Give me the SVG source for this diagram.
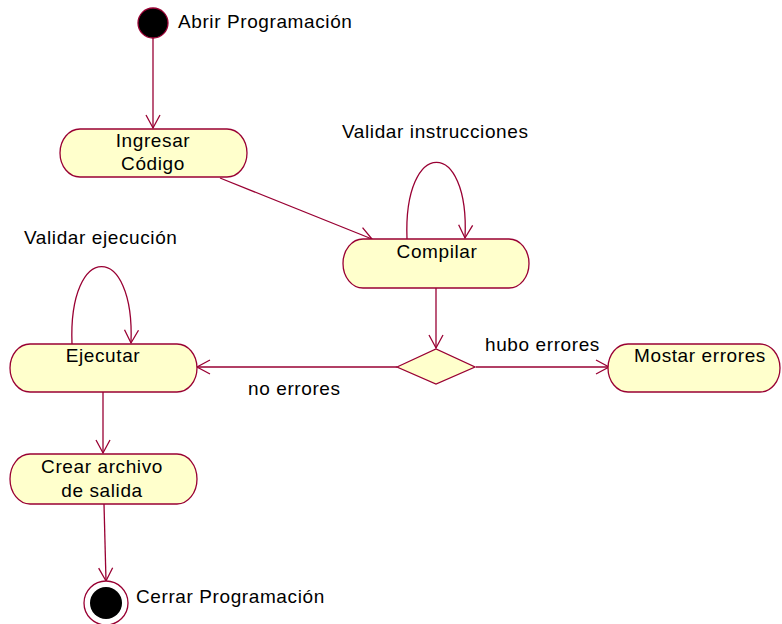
<svg xmlns="http://www.w3.org/2000/svg" width="782" height="624" viewBox="0 0 782 624">
  <style>
    .act { fill: #FFFFCC; stroke: #990033; stroke-width: 1.3; }
    .edge { fill: none; stroke: #990033; stroke-width: 1.3; }
    text { font-family: "Liberation Sans", Arial, sans-serif; font-size: 19px; fill: #000; letter-spacing: 0.6px; }
    .c { text-anchor: middle; }
  </style>
  <defs>
    <marker id="open" markerUnits="userSpaceOnUse" markerWidth="16" markerHeight="16" viewBox="-14 -8 16 16" refX="0" refY="0" orient="auto">
      <path d="M-13,-7 L0,0 L-13,7" fill="none" stroke="#990033" stroke-width="1.3"/>
    </marker>
  </defs>
  <rect width="782" height="624" fill="#fff"/>

  <!-- connectors -->
  <g id="connectors">
    <path class="edge" d="M153,38 V128" marker-end="url(#open)"/>
    <path class="edge" d="M220,178 L372,239" marker-end="url(#open)"/>
    <path class="edge" d="M407,239 C403,137 470,137 465,238" marker-end="url(#open)"/>
    <path class="edge" d="M436,288 V348" marker-end="url(#open)"/>
    <path class="edge" d="M397,367 H197" marker-end="url(#open)"/>
    <path class="edge" d="M476,367 H609" marker-end="url(#open)"/>
    <path class="edge" d="M72,344 C68,241 135,241 131,343" marker-end="url(#open)"/>
    <path class="edge" d="M103,392 V453" marker-end="url(#open)"/>
    <path class="edge" d="M104,504 L106,581" marker-end="url(#open)"/>
    <text x="342" y="138">Validar instrucciones</text>
    <text x="24" y="244">Validar ejecución</text>
    <text x="485" y="351">hubo errores</text>
    <text x="248" y="395">no errores</text>
  </g>

  <g id="start">
    <circle cx="153" cy="23" r="15" fill="#000" stroke="#990033" stroke-width="1.3"/>
    <text x="178" y="28">Abrir Programación</text>
  </g>

  <g id="ingresar">
    <path class="act" d="M80,129 H227 A20,24 0 0 1 227,177 H80 A20,24 0 0 1 80,129 Z"/>
    <text class="c" x="153" y="147">Ingresar</text>
    <text class="c" x="153" y="170">Código</text>
  </g>

  <g id="compilar">
    <path class="act" d="M363,239 H509 A20,24.5 0 0 1 509,288 H363 A20,24.5 0 0 1 363,239 Z"/>
    <text class="c" x="437" y="258">Compilar</text>
  </g>

  <g id="decision">
    <polygon class="act" points="397,367 436,349 475,367 436,384"/>
  </g>

  <g id="mostrar">
    <path class="act" d="M628,344 H760 A20,24 0 0 1 760,392 H628 A20,24 0 0 1 628,344 Z"/>
    <text class="c" x="700" y="362">Mostar errores</text>
  </g>

  <g id="ejecutar">
    <path class="act" d="M30,344 H177 A20,24 0 0 1 177,392 H30 A20,24 0 0 1 30,344 Z"/>
    <text class="c" x="103" y="362">Ejecutar</text>
  </g>

  <g id="crear">
    <path class="act" d="M30,454 H177 A20,25 0 0 1 177,504 H30 A20,25 0 0 1 30,454 Z"/>
    <text class="c" x="102" y="473">Crear archivo</text>
    <text class="c" x="102" y="497">de salida</text>
  </g>

  <g id="end">
    <circle cx="106" cy="603" r="22" fill="#fff" stroke="#990033" stroke-width="1.3"/>
    <circle cx="106" cy="603" r="16" fill="#000"/>
    <text x="136" y="603">Cerrar Programación</text>
  </g>
</svg>
